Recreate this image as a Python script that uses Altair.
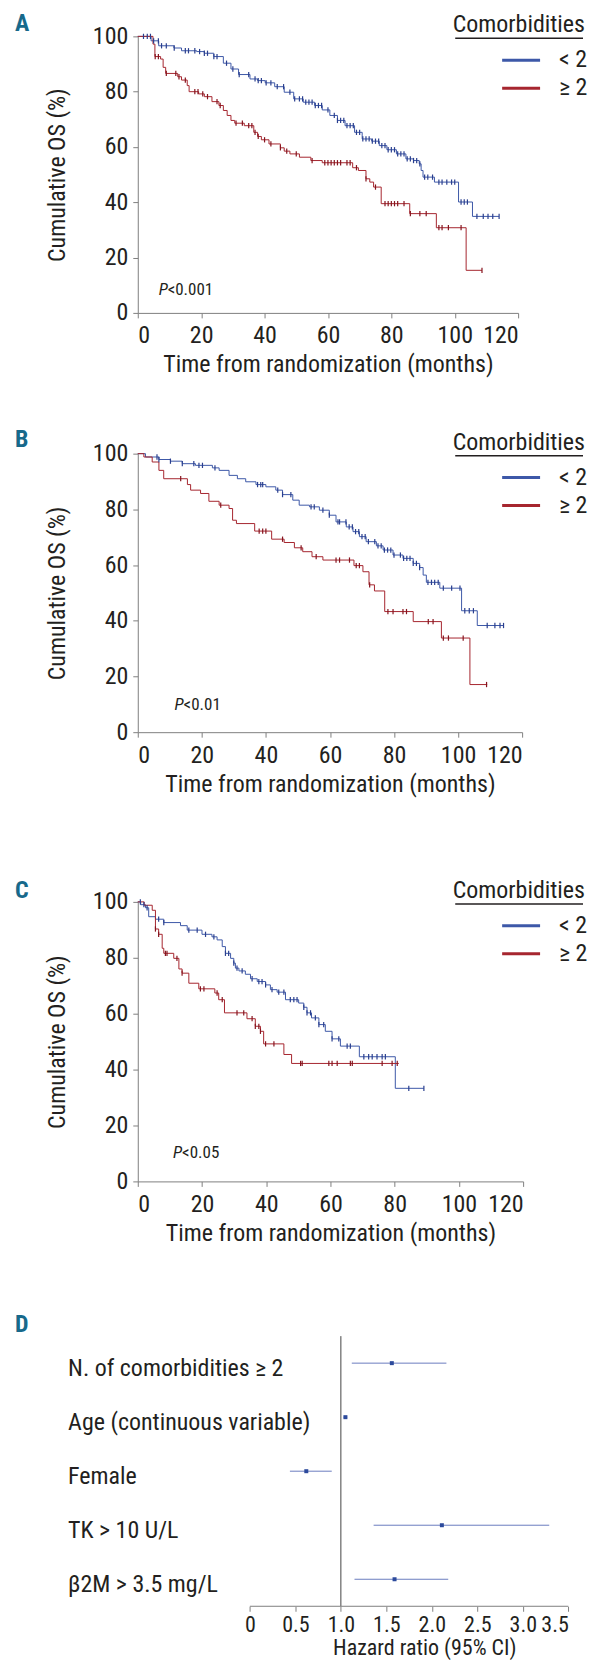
import altair as alt
import numpy as np
import pandas as pd

FONT = "Liberation Sans Narrow, Roboto Condensed, DejaVu Sans Condensed, sans-serif"
TEXT = "#231f20"
AXIS_GREY = "#808080"
BLUE = "#3d58a8"
RED = "#a6262f"
BLUE_D = "#2a3f8f"
RED_D = "#86141e"
TEAL = "#17698b"
SQ_COL = "#2c4a9c"
CI_COL = "#6a7cbf"

GROUPS = ["< 2", "≥ 2"]
X_TICKS = [0, 20, 40, 60, 80, 100, 120]
Y_TICKS = [0, 20, 40, 60, 80, 100]

# ---------------- Panel A ----------------
A_LT2_T = [0, 4.2, 6.6, 11.4, 13.8, 18.6, 21, 24, 27, 29.4, 31.8, 35.4, 37.8, 40.2, 43.2, 46.2,
           49.2, 52.2, 55.8, 58.2, 60.6, 63, 65.4, 68.4, 70.8, 73.8, 76.2, 78.6, 81.6, 84.6, 87,
           88.8, 89.4, 90, 93.6, 101.2, 105.6, 114]
A_LT2_S = [100, 98.4, 96.6, 95.8, 94.8, 94.5, 93.9, 92.7, 90.3, 88.2, 86.2, 84.6, 84, 83.2, 81.8,
           79.8, 77.4, 76.2, 75, 73.4, 71.4, 69.6, 67.7, 65.3, 62.9, 62.1, 60.5, 59, 57.5, 55.7,
           55.1, 53.9, 51.5, 49.1, 47.3, 40.1, 34.9, 34.9]
A_LT2_CENS = [1.8, 3, 4, 5, 6.5, 7.5, 9, 11.5, 15, 16, 18, 19.5, 21, 22, 24, 25, 28, 30, 32, 35,
              37, 38, 39, 40.5, 42, 44, 46, 48, 49.5, 51, 52, 53, 54, 55, 56, 57, 58, 60, 62, 63,
              64, 65, 66, 67, 68, 69, 70, 71, 72, 73, 74, 75, 76, 77, 78, 79, 80, 81, 82, 83, 84,
              85, 86, 87, 88, 89, 90.5, 91.5, 93, 95, 96, 97.5, 99, 100, 102, 103, 104, 107, 109,
              110.5, 112, 114]
A_GE2_T = [0, 4.8, 5.4, 7.2, 8, 8.8, 12.6, 13.8, 15.6, 16.2, 19.2, 21, 23.4, 25.6, 27, 28.2, 29.4,
           30.6, 33.6, 36.6, 37.8, 39, 41.4, 45, 46.2, 48, 51, 54.6, 58.2, 67.8, 69.6, 72, 73.2,
           74.4, 76.8, 85.8, 94.2, 103.6, 108.6]
A_GE2_S = [100, 97.2, 92.7, 91.8, 88.8, 86.6, 85.4, 84.2, 82.2, 80, 79.2, 78.2, 76.4, 75, 73.2,
           71.4, 69.6, 68.6, 67.7, 65.3, 63.8, 62.6, 61.1, 59.7, 58.5, 57.5, 56.3, 55.1, 54.3,
           52.5, 51.5, 48.5, 47.3, 45.5, 39.5, 35.9, 30.8, 15.4, 15.4]
A_GE2_CENS = [5.5, 6.5, 9, 12, 13, 15, 18, 19, 20.5, 22, 25, 26, 31, 33, 35, 36, 37, 38, 40, 42,
              45, 47, 50, 55, 59, 60, 61, 62, 63, 64, 66, 67, 69, 72, 75, 78, 79, 80, 81, 82, 84,
              86, 89, 91, 95, 96, 98, 102, 108.6]

# ---------------- Panel B ----------------
B_LT2_T = [0, 2.4, 6.6, 10.2, 13.9, 18, 23.3, 25.4, 28.5, 31.1, 33.7, 36.9, 40, 43.1, 45.2, 48.4,
           50.4, 53.6, 56.7, 59.8, 61.9, 65.1, 67.2, 69.2, 71.3, 74.5, 76.6, 79.7, 82.8, 86, 88,
           89.1, 90.1, 94.3, 101.1, 106, 114.2]
B_LT2_S = [100, 98.8, 97.9, 97.3, 96.4, 95.8, 94.9, 94, 92.2, 91, 89.9, 88.9, 88.1, 86.9, 85.3,
           83.3, 81.5, 80.9, 79.7, 77.9, 75.5, 73.7, 72, 70.2, 68.4, 66.9, 65.4, 63.6, 62.4, 60.6,
           59.1, 56.4, 53.8, 51.7, 43.6, 38.3, 38.3]
B_LT2_CENS = [6, 6.6, 10.2, 13.9, 17.5, 19.1, 20.2, 24.1, 37.4, 38.4, 39, 43.7, 45.2, 47.8, 54.1,
              55.1, 57.8, 59.8, 62.5, 63, 65, 66, 67, 68, 69, 70, 71, 72, 74, 75, 76, 77, 78, 79,
              80, 82, 83, 84, 85, 86, 87, 88, 90.6, 91.7, 92.7, 93.8, 95.4, 98, 100.6, 102.1,
              103.5, 104.8, 109.1, 111.5, 113.1, 114.2]
B_GE2_T = [0, 1.9, 4.5, 6.6, 8.1, 15.5, 16.5, 19.6, 22.2, 25.4, 28.5, 29.6, 30.8, 36.5, 41.8,
           45.7, 48.9, 51.5, 54.4, 57.8, 67.5, 70.3, 72.2, 73.9, 77.1, 86, 94.8, 103.7, 109.1]
B_GE2_S = [100, 98.8, 97, 94, 91, 88.9, 86.9, 85.7, 82.9, 81.5, 80.3, 76.1, 74.9, 72.2, 69.3,
           68.1, 66.2, 64.8, 63, 61.8, 59.8, 57.6, 52.9, 50.7, 43.3, 39.7, 33.8, 17.1, 17.1]
B_GE2_CENS = [13.4, 25.9, 37.9, 39, 40, 45.2, 51, 55.7, 61.9, 63, 66.1, 68.2, 69.2, 72.4, 78.1,
              79.7, 82.8, 83.9, 90.7, 92.2, 95.4, 97, 101.6, 108.9]

# ---------------- Panel C ----------------
C_LT2_T = [0, 0.9, 2.4, 3.4, 5.5, 8.1, 13.3, 15.4, 20, 23.1, 24.7, 26.3, 27.3, 28.9, 29.9, 30.4,
           31.5, 33.5, 35.1, 37.2, 39.8, 41.3, 43.4, 46, 50.1, 51.7, 52.7, 54.1, 56.4, 58.4, 60.5,
           63.1, 69, 80.2, 89.1]
C_LT2_S = [100, 99, 97.9, 94.7, 93.8, 92.6, 91.5, 89.9, 88.4, 87.5, 86.4, 84, 81.6, 79.8, 78.1,
           76.3, 75.3, 74.1, 72.5, 71.5, 70.3, 68.6, 67.7, 65, 63.8, 62.3, 60.3, 58.5, 56.1, 53.7,
           51, 48.4, 44.6, 33.3, 33.3]
C_LT2_CENS = [0.8, 1.9, 2.9, 6.5, 8.1, 15.9, 18.5, 21.1, 23.7, 27.3, 28.3, 29.9, 30.9, 32.5, 35.6,
              37.7, 38.7, 39.8, 41.8, 43.9, 45.5, 47.5, 48.6, 49.6, 51.7, 52.7, 53.8, 55.3, 56.4,
              57.9, 60.5, 62.6, 65.2, 66.2, 70.4, 71.9, 73, 74.5, 76.1, 77.1, 84.4, 89.1]
C_GE2_T = [0, 2, 4.5, 5.5, 6.5, 7.6, 8.1, 11.2, 12.8, 13.8, 15.9, 19, 24, 25.2, 27, 34, 36.6,
           38.2, 39.2, 45.5, 47.9, 81.3]
C_GE2_S = [100, 98.8, 97, 90.3, 88.4, 83.4, 81.6, 79.8, 76, 74.5, 70.9, 68.9, 67.4, 65, 60.3,
           58.2, 55.5, 53.7, 49.2, 45.4, 42.2, 42.2]
C_GE2_CENS = [5.5, 6.5, 8.6, 9.1, 12.2, 13.8, 19.5, 20.6, 24.7, 26.3, 30.9, 33, 35.6, 36.6, 37.7,
              38.2, 39.8, 42.4, 50.7, 51.2, 59.5, 60.5, 62.1, 66.2, 66.8, 76.1, 79.2, 80.8]

P_LABELS = ["<0.001", "<0.01", "<0.05"]
P_TIME = [6.6, 11.5, 11.0]
P_SURV = [8.4, 9.9, 10.2]

# ---------------- Panel D (forest) ----------------
F_LABELS = ["N. of comorbidities ≥ 2", "Age (continuous variable)", "Female", "TK > 10 U/L",
            "β2M > 3.5 mg/L"]
F_HR = [1.56, 1.05, 0.62, 2.11, 1.59]
F_LO = [1.12, 1.03, 0.44, 1.36, 1.15]
F_HI = [2.16, 1.07, 0.90, 3.29, 2.18]
F_TICKS = [0, 0.5, 1.0, 1.5, 2.0, 2.5, 3.0, 3.5]


def steps(t, s, g):
    return pd.DataFrame({"t": t, "s": s, "grp": g})


def censored(times, t, s, g):
    t = np.asarray(t, float)
    s = np.asarray(s, float)
    times = np.asarray(times, float)
    idx = np.searchsorted(t, times, side="right") - 1
    return pd.DataFrame({"t": times, "s": s[idx], "grp": g})


ONE = pd.DataFrame({"k": [0]})


def letter_mark(letter, y):
    return alt.Chart(ONE).mark_text(align="left", baseline="middle", fontSize=24,
                                    fontWeight="bold", font=FONT, color=TEAL).encode(
        x=alt.value(-123), y=alt.value(y), text=alt.value(letter))


def km_panel(letter, letter_y, curves, cens, p_lab, p_t, p_s, W, H):
    xe = alt.X("t:Q", scale=alt.Scale(domain=[0, 120], nice=False),
               axis=alt.Axis(values=X_TICKS, title="Time from randomization (months)",
                             labelPadding=6, titlePadding=5))
    ye = alt.Y("s:Q", scale=alt.Scale(domain=[0, 100], nice=False),
               axis=alt.Axis(values=Y_TICKS, title="Cumulative OS (%)",
                             labelPadding=5, titlePadding=23))
    col = alt.Color("grp:N", scale=alt.Scale(domain=GROUPS, range=[BLUE, RED]), legend=None)
    lines = alt.Chart(curves).mark_line(interpolate="step-after", strokeWidth=1).encode(
        x=xe, y=ye, color=col)
    ticks = alt.Chart(cens).mark_point(shape="M0,-1L0,1", size=28, strokeWidth=1.2,
                                       filled=False, opacity=1).encode(
        x=xe, y=ye,
        stroke=alt.Stroke("grp:N", scale=alt.Scale(domain=GROUPS, range=[BLUE_D, RED_D]),
                          legend=None))
    pdf = pd.DataFrame({"t": [p_t], "s": [p_s], "lab": [p_lab]})
    p1 = alt.Chart(pdf).mark_text(align="left", baseline="middle", fontStyle="italic",
                                  fontSize=17, font=FONT, color=TEXT).encode(
        x=xe, y=ye, text=alt.value("P"))
    p2 = alt.Chart(pdf).mark_text(align="left", baseline="middle", dx=9,
                                  fontSize=17, font=FONT, color=TEXT).encode(
        x=xe, y=ye, text="lab:N")
    leg_title = alt.Chart(ONE).mark_text(align="right", baseline="middle", fontSize=24,
                                         font=FONT, color=TEXT).encode(
        x=alt.value(448), y=alt.value(-11), text=alt.value("Comorbidities"))
    underline = alt.Chart(ONE).mark_rule(color=TEXT, strokeWidth=1.5).encode(
        x=alt.value(318), x2=alt.value(446), y=alt.value(2))
    layers = [lines, ticks, p1, p2, letter_mark(letter, letter_y), leg_title, underline]
    for g, c, yy in zip(GROUPS, [BLUE, RED], [24, 52]):
        layers.append(alt.Chart(ONE).mark_rule(color=c, strokeWidth=3).encode(
            x=alt.value(365), x2=alt.value(403), y=alt.value(yy)))
        layers.append(alt.Chart(ONE).mark_text(align="left", baseline="middle", fontSize=24,
                                               font=FONT, color=TEXT).encode(
            x=alt.value(422), y=alt.value(yy), text=alt.value(g)))
    return alt.layer(*layers).properties(width=W, height=H)


A = km_panel("A", -12,
             pd.concat([steps(A_LT2_T, A_LT2_S, GROUPS[0]), steps(A_GE2_T, A_GE2_S, GROUPS[1])]),
             pd.concat([censored(A_LT2_CENS, A_LT2_T, A_LT2_S, GROUPS[0]),
                        censored(A_GE2_CENS, A_GE2_T, A_GE2_S, GROUPS[1])]),
             P_LABELS[0], P_TIME[0], P_SURV[0], 381, 277)
B = km_panel("B", -14,
             pd.concat([steps(B_LT2_T, B_LT2_S, GROUPS[0]), steps(B_GE2_T, B_GE2_S, GROUPS[1])]),
             pd.concat([censored(B_LT2_CENS, B_LT2_T, B_LT2_S, GROUPS[0]),
                        censored(B_GE2_CENS, B_GE2_T, B_GE2_S, GROUPS[1])]),
             P_LABELS[1], P_TIME[1], P_SURV[1], 385, 279)
C = km_panel("C", -11,
             pd.concat([steps(C_LT2_T, C_LT2_S, GROUPS[0]), steps(C_GE2_T, C_GE2_S, GROUPS[1])]),
             pd.concat([censored(C_LT2_CENS, C_LT2_T, C_LT2_S, GROUPS[0]),
                        censored(C_GE2_CENS, C_GE2_T, C_GE2_S, GROUPS[1])]),
             P_LABELS[2], P_TIME[2], P_SURV[2], 386, 280)

# Forest plot: its plot area starts at the same x as the survival panels; the
# hazard-ratio axis itself is drawn from 0 to 3.5 only.
fdf = pd.DataFrame({"label": F_LABELS, "hr": F_HR, "lo": F_LO, "hi": F_HI})
F_W = 431.3
F_H = 270.6
HR_MIN = -1.232


def fx(field):
    return alt.X(field, scale=alt.Scale(domain=[HR_MIN, 3.5], nice=False, zero=False),
                 axis=alt.Axis(values=F_TICKS, domain=False,
                               labelExpr="datum.value == 0 ? '0' : format(datum.value, '.1f')",
                               title="Hazard ratio (95% CI)", labelFontSize=22, titleFontSize=22,
                               labelPadding=3, titlePadding=2, titleX=287, titleAnchor="middle",
                               titleAlign="center"))


fy = alt.Y("label:N", sort=F_LABELS, scale=alt.Scale(paddingInner=0, paddingOuter=0),
           axis=alt.Axis(title=None, domain=False, ticks=False, tickSize=0, labelAlign="left",
                         labelPadding=70.3, labelLimit=400, labelOffset=6, labelFontSize=24,
                         labelBaseline="middle"))

axis_line = alt.Chart(ONE).mark_rule(color=AXIS_GREY, strokeWidth=1).encode(
    x=alt.datum(0.0), x2=alt.datum(3.5), y=alt.value(F_H))
ref = alt.Chart(ONE).mark_rule(color="#444444", strokeWidth=1).encode(x=alt.datum(1.0))
ci = alt.Chart(fdf).mark_rule(color=CI_COL, strokeWidth=1).encode(x=fx("lo:Q"), x2="hi:Q", y=fy)
sq = alt.Chart(fdf).mark_square(size=16, color=SQ_COL, opacity=1).encode(x=fx("hr:Q"), y=fy)
D = alt.layer(ci, sq, ref, axis_line, letter_mark("D", -10.7)).properties(width=F_W, height=F_H)

ab = alt.vconcat(A, B, spacing=51).resolve_scale(x="independent", y="independent")
abc = alt.vconcat(ab, C, spacing=83).resolve_scale(x="independent", y="independent")
chart = (
    alt.vconcat(abc, D, spacing=68)
    .resolve_scale(x="independent", y="independent")
    .properties(padding={"left": 7, "top": 3, "right": 0, "bottom": 0})
    .configure_view(stroke=None)
    .configure_axis(labelFont=FONT, titleFont=FONT, labelColor=TEXT, titleColor=TEXT,
                    domainColor=AXIS_GREY, tickColor=AXIS_GREY, grid=False, labelFontSize=24,
                    titleFontSize=24, titleFontWeight="normal", tickSize=5)
)

chart.save("out.html", embed_options={"renderer": "svg", "actions": False})
